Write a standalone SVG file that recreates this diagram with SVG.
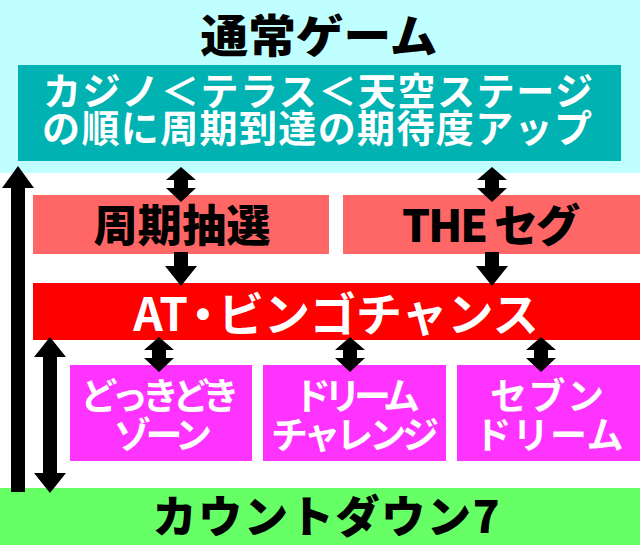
<svg xmlns="http://www.w3.org/2000/svg" width="640" height="545" viewBox="0 0 640 545">
<defs>
<style>
.jp{font-family:"Noto Sans CJK JP","Noto Sans",sans-serif;text-anchor:middle}
.blk{fill:#000;font-weight:900}
.wht{fill:#fff;font-weight:700}
.arr{fill:#000}
</style>
<path id="dbl" d="M0,0 L15,13 L7,13 L7,21 L15,21 L0,35 L-15,21 L-7,21 L-7,13 L-15,13 Z"/>
<path id="down" d="M-7,0 L7,0 L7,14 L16,14 L0,34 L-16,14 L-7,14 Z"/>
</defs>
<rect x="0" y="0" width="640" height="545" fill="#fff"/>
<g id="normal-game">
<rect x="0" y="0" width="640" height="173" fill="#c0ffff"/>
<text class="jp blk" x="319" y="53" font-size="45" textLength="237" lengthAdjust="spacingAndGlyphs">通常ゲーム</text>
</g>
<g id="stage-info">
<rect x="18" y="65" width="603" height="96" fill="#00b2b2"/>
<text class="jp wht" x="318" y="105" font-size="38" textLength="550">カジノ＜テラス＜天空ステージ</text>
<text class="jp wht" x="317" y="142" font-size="38" textLength="550">の順に周期到達の期待度アップ</text>
</g>
<g id="cycle-lottery">
<rect x="33" y="195" width="296" height="59" fill="#ff6666"/>
<text class="jp blk" x="182" y="242" font-size="44" textLength="177">周期抽選</text>
</g>
<g id="the-seg">
<rect x="343" y="195" width="297" height="59" fill="#ff6666"/>
<text class="jp blk" x="491" y="242" font-size="44" textLength="178">THE セグ</text>
</g>
<g id="at-bingo">
<rect x="33" y="283" width="607" height="57" fill="#ff0000"/>
<text class="jp wht" x="336" y="331" font-size="46">AT<tspan dx="-8">・</tspan><tspan dx="-8">ビンゴチャンス</tspan></text>
</g>
<g id="dokidoki-zone">
<rect x="70" y="365" width="182" height="96" fill="#ff33ff"/>
<text class="jp wht" x="160" y="410" font-size="37" textLength="159">どっきどき</text>
<text class="jp wht" x="163" y="449" font-size="37" textLength="98">ゾーン</text>
</g>
<g id="dream-challenge">
<rect x="263" y="365" width="183" height="96" fill="#ff33ff"/>
<text class="jp wht" x="357" y="410" font-size="37" textLength="126">ドリーム</text>
<text class="jp wht" x="355" y="449" font-size="37" textLength="168">チャレンジ</text>
</g>
<g id="seven-dream">
<rect x="457" y="365" width="183" height="96" fill="#ff33ff"/>
<text class="jp wht" x="547" y="410" font-size="37" textLength="114">セブン</text>
<text class="jp wht" x="549" y="449" font-size="37" textLength="149">ドリーム</text>
</g>
<g id="countdown7">
<rect x="0" y="488" width="640" height="57" fill="#66ff66"/>
<text class="jp blk" x="326" y="533" font-size="44" textLength="347">カウントダウン7</text>
</g>
<g id="connectors" class="arr">
<path d="M18,166 L34,188 L25,188 L25,492 L11,492 L11,188 L2,188 Z"/>
<path d="M50,337 L66,357 L57,357 L57,473 L66,473 L50,493 L34,473 L43,473 L43,357 L34,357 Z"/>
<use href="#dbl" x="181" y="167"/>
<use href="#dbl" x="492" y="167"/>
<use href="#down" x="181" y="252"/>
<use href="#down" x="492" y="252"/>
<use href="#dbl" x="159" y="337"/>
<use href="#dbl" x="350" y="337"/>
<use href="#dbl" x="541" y="337"/>
</g>
</svg>
